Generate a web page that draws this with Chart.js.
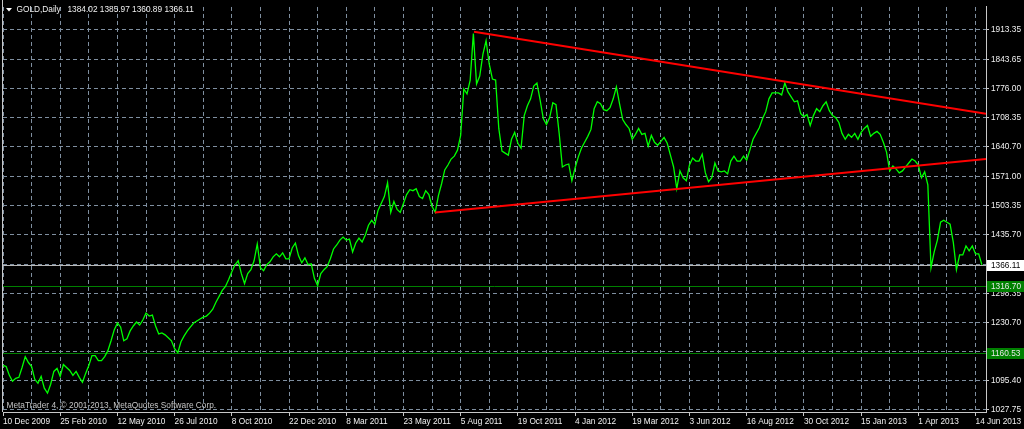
<!DOCTYPE html>
<html lang="en">
<head>
<meta charset="UTF-8">
<title>GOLD,Daily</title>
<script src="https://cdn.jsdelivr.net/npm/chart.js@4"></script>
<style>
  html, body { margin: 0; padding: 0; background: #000; }
  #goldChart { display: block; }
</style>
</head>
<body>
<canvas id="goldChart" width="1024" height="429"></canvas>
<script>
// date labels on the time axis, one every 18 samples
var dateLabels = ['10 Dec 2009', '25 Feb 2010', '12 May 2010', '26 Jul 2010', '8 Oct 2010', '22 Dec 2010',
    '8 Mar 2011', '23 May 2011', '5 Aug 2011', '19 Oct 2011', '4 Jan 2012', '19 Mar 2012',
    '3 Jun 2012', '16 Aug 2012', '30 Oct 2012', '15 Jan 2013', '1 Apr 2013', '14 Jun 2013'];
var samplesPerLabel = 18;
var lastSample = 309.3; // right edge of the chart, in samples

// close prices (about one every 3 bars)
var closes = [
    1131.4, 1129.1, 1108.4, 1094.6, 1101.5, 1103.8, 1126.8, 1152.1, 1138.3, 1129.1, 1099.2, 1090.0, 1106.1, 1078.5, 1067.0, 1087.7, 1117.6, 1124.5,
    1106.1, 1133.7, 1126.8, 1119.9, 1108.4, 1117.6, 1103.8, 1092.3, 1113.0, 1131.4, 1154.4, 1154.4, 1142.9, 1142.9, 1152.1, 1165.9, 1188.9, 1214.2,
    1230.3, 1221.1, 1188.9, 1193.5, 1211.9, 1223.4, 1232.6, 1225.7, 1237.2, 1253.3, 1246.4, 1248.7, 1223.4, 1205.0, 1207.3, 1202.7, 1195.8, 1188.9,
    1170.5, 1161.3, 1186.6, 1200.4, 1211.9, 1221.1, 1230.3, 1234.9, 1239.5, 1244.1, 1246.4, 1253.3, 1262.5, 1278.6, 1292.4, 1306.2, 1315.4, 1331.5,
    1349.9, 1366.0, 1375.2, 1345.3, 1322.3, 1345.3, 1354.5, 1375.2, 1414.3, 1359.1, 1352.2, 1366.0, 1372.9, 1384.4, 1391.3, 1384.4, 1393.6, 1379.8,
    1379.8, 1405.1, 1416.6, 1386.7, 1370.6, 1382.1, 1366.0, 1368.3, 1333.8, 1317.7, 1345.3, 1354.5, 1361.4, 1379.8, 1402.8, 1412.0, 1423.5, 1430.4,
    1423.5, 1425.8, 1395.9, 1416.6, 1428.1, 1418.9, 1435.0, 1458.0, 1469.5, 1460.3, 1492.5, 1508.6, 1524.7, 1556.9, 1487.9, 1513.2, 1494.8, 1487.9,
    1508.6, 1529.3, 1540.8, 1538.5, 1543.1, 1524.7, 1520.1, 1538.5, 1529.3, 1501.7, 1487.9, 1527.0, 1554.6, 1586.8, 1598.3, 1612.1, 1619.0, 1632.8,
    1667.3, 1775.4, 1763.9, 1796.1, 1904.2, 1786.9, 1805.3, 1855.9, 1888.1, 1832.9, 1798.4, 1796.1, 1683.4, 1630.5, 1625.9, 1621.3, 1658.1, 1674.2,
    1648.9, 1637.4, 1713.3, 1736.3, 1752.4, 1782.3, 1789.2, 1750.1, 1706.4, 1692.6, 1708.7, 1743.2, 1738.6, 1671.9, 1593.7, 1598.3, 1600.6, 1561.5,
    1591.4, 1616.7, 1637.4, 1651.2, 1665.0, 1681.1, 1729.4, 1745.5, 1740.9, 1727.1, 1724.8, 1731.7, 1752.4, 1780.0, 1740.9, 1704.1, 1692.6, 1683.4,
    1658.1, 1669.6, 1683.4, 1669.6, 1671.9, 1642.0, 1667.3, 1651.2, 1644.3, 1653.5, 1662.7, 1648.9, 1621.3, 1593.7, 1543.1, 1584.5, 1568.4, 1561.5,
    1598.3, 1614.4, 1607.5, 1607.5, 1623.6, 1579.9, 1559.2, 1568.4, 1602.9, 1584.5, 1582.2, 1584.5, 1577.6, 1607.5, 1619.0, 1607.5, 1607.5, 1619.0,
    1609.8, 1632.8, 1658.1, 1671.9, 1685.7, 1706.4, 1722.5, 1752.4, 1766.2, 1766.2, 1766.2, 1761.6, 1789.2, 1768.5, 1757.0, 1745.5, 1747.8, 1717.9,
    1711.0, 1715.6, 1690.3, 1713.3, 1729.4, 1722.5, 1736.3, 1745.5, 1724.8, 1713.3, 1708.7, 1697.2, 1671.9, 1658.1, 1669.6, 1662.7, 1671.9, 1658.1,
    1674.2, 1683.4, 1690.3, 1665.0, 1671.9, 1676.5, 1669.6, 1651.2, 1628.2, 1584.5, 1596.0, 1589.1, 1579.9, 1584.5, 1593.7, 1602.9, 1612.1, 1607.5,
    1598.3, 1568.4, 1582.2, 1552.3, 1359.1, 1395.9, 1423.5, 1464.9, 1469.5, 1464.9, 1460.3, 1418.9, 1354.5, 1389.0, 1389.0, 1409.7, 1398.2, 1409.7,
    1391.3, 1391.3, 1366.11
];

// price axis
var priceMin = 1023.07;
var priceMax = 1966.27;
var priceTicks = [1913.35, 1843.65, 1776.00, 1708.35, 1640.70, 1571.00, 1503.35, 1435.70,
    1366.05, 1298.35, 1230.70, 1163.05, 1095.40, 1027.75];

// horizontal lines (bid line + two support lines)
var levelPrices = [1366.11, 1316.70, 1160.53];
var levelIsBid = [true, false, false];

// trend lines, [sample, price] at each end
var upperTrend = [[148.2, 1908.8], [309.3, 1717.8]];
var lowerTrend = [[135.9, 1487.9], [309.3, 1612.1]];

// last bar: open high low close
var lastBar = [1384.02, 1385.97, 1360.89, 1366.11];
var symbolName = 'GOLD,Daily';
var copyrightText = 'MetaTrader 4, \u00a9 2001-2013, MetaQuotes Software Corp.';

var FONT = '8.3px "Liberation Sans", Arial, sans-serif';
var TEXT = '#f0f0f0';
var GRID = '#7f8fa0';
var FRAME = '#c8c8c8';

Chart.defaults.font.family = '"Liberation Sans", Arial, sans-serif';
Chart.defaults.font.size = 8.3;

function trendData(t) {
    return t.map(function (p) { return { x: p[0], y: p[1] }; });
}

// MT4 look: black background, level lines, price labels, title, watermark
var mt4Plugin = {
    id: 'mt4',
    beforeDraw: function (chart) {
        var ctx = chart.ctx;
        ctx.save();
        ctx.fillStyle = '#000';
        ctx.fillRect(0, 0, chart.width, chart.height);
        ctx.restore();
    },
    beforeDatasetsDraw: function (chart) {
        var ctx = chart.ctx, area = chart.chartArea, y = chart.scales.y;
        ctx.save();
        ctx.lineWidth = 1;
        levelPrices.forEach(function (p, i) {
            var py = Math.round(y.getPixelForValue(p)) + 0.5;
            ctx.strokeStyle = levelIsBid[i] ? '#b8b8b8' : '#008000';
            ctx.beginPath();
            ctx.moveTo(area.left, py);
            ctx.lineTo(area.right, py);
            ctx.stroke();
        });
        ctx.restore();
    },
    afterDraw: function (chart) {
        var ctx = chart.ctx, area = chart.chartArea, y = chart.scales.y;
        ctx.save();

        // left frame
        ctx.strokeStyle = FRAME;
        ctx.lineWidth = 1;
        ctx.beginPath();
        ctx.moveTo(area.left - 0.5, 0);
        ctx.lineTo(area.left - 0.5, area.bottom);
        ctx.stroke();

        // price boxes on the axis
        ctx.font = FONT;
        ctx.textBaseline = 'middle';
        ctx.textAlign = 'left';
        levelPrices.forEach(function (p, i) {
            var py = Math.round(y.getPixelForValue(p)) + 0.5;
            ctx.fillStyle = levelIsBid[i] ? '#ffffff' : '#008000';
            ctx.fillRect(area.right + 1, py - 5.5, chart.width - area.right - 1, 11);
            ctx.fillStyle = levelIsBid[i] ? '#000000' : '#e8e8e8';
            ctx.fillText(p.toFixed(2), area.right + 5, py + 0.5);
        });

        // title
        ctx.fillStyle = '#ffffff';
        ctx.beginPath();
        ctx.moveTo(6, 8);
        ctx.lineTo(12, 8);
        ctx.lineTo(9, 11.5);
        ctx.closePath();
        ctx.fill();
        ctx.fillStyle = TEXT;
        ctx.fillText(symbolName, 16.5, 10);
        ctx.fillText(lastBar.map(function (v) { return v.toFixed(2); }).join(' '), 67.5, 10);

        // watermark
        ctx.fillStyle = '#c4c4c4';
        ctx.fillText(copyrightText, 6.5, 406);
        ctx.restore();
    }
};

var ctx = document.getElementById('goldChart').getContext('2d');
var goldChart = new Chart(ctx, {
    type: 'line',
    data: {
        datasets: [
            { data: trendData(upperTrend), borderColor: '#ff0000', borderWidth: 2, pointRadius: 0 },
            { data: trendData(lowerTrend), borderColor: '#ff0000', borderWidth: 2, pointRadius: 0 },
            {
                data: closes.map(function (c, i) { return { x: i, y: c }; }),
                borderColor: '#00ff00',
                borderWidth: 1.3,
                pointRadius: 0,
                tension: 0
            }
        ]
    },
    options: {
        responsive: false,
        animation: false,
        devicePixelRatio: 1,
        layout: { padding: { left: 3, top: 2, right: 0, bottom: 0 } },
        plugins: { legend: { display: false }, tooltip: { enabled: false } },
        scales: {
            x: {
                type: 'linear',
                min: 0,
                max: lastSample,
                afterBuildTicks: function (scale) {
                    var ticks = [];
                    for (var v = 0; v <= lastSample; v += samplesPerLabel / 2) {
                        ticks.push({ value: v });
                    }
                    scale.ticks = ticks;
                },
                afterFit: function (scale) {
                    scale.height = 17;
                    scale.paddingLeft = 0;
                    scale.paddingRight = 0;
                },
                ticks: {
                    autoSkip: false,
                    maxRotation: 0,
                    minRotation: 0,
                    align: 'start',
                    padding: 1,
                    color: TEXT,
                    callback: function (value) {
                        return value % samplesPerLabel === 0 ? dateLabels[value / samplesPerLabel] : '';
                    }
                },
                grid: {
                    color: GRID,
                    tickLength: 4,
                    tickBorderDash: [],
                    tickColor: function (c) {
                        return c.tick && c.tick.value % samplesPerLabel === 0 ? FRAME : 'rgba(0,0,0,0)';
                    }
                },
                border: { display: true, color: FRAME, dash: [4, 3] }
            },
            y: {
                type: 'linear',
                position: 'right',
                min: priceMin,
                max: priceMax,
                afterBuildTicks: function (scale) {
                    scale.ticks = priceTicks.map(function (v) { return { value: v }; });
                },
                afterFit: function (scale) {
                    scale.width = 38;
                },
                ticks: {
                    padding: 2,
                    color: TEXT,
                    callback: function (value) {
                        var covered = levelPrices.some(function (p) { return Math.abs(p - value) < 8; });
                        return covered ? '' : value.toFixed(2);
                    }
                },
                grid: { color: GRID, tickLength: 3, tickBorderDash: [], tickColor: FRAME },
                border: { display: true, color: FRAME, dash: [4, 3] }
            }
        }
    },
    plugins: [mt4Plugin]
});
</script>
</body>
</html>
